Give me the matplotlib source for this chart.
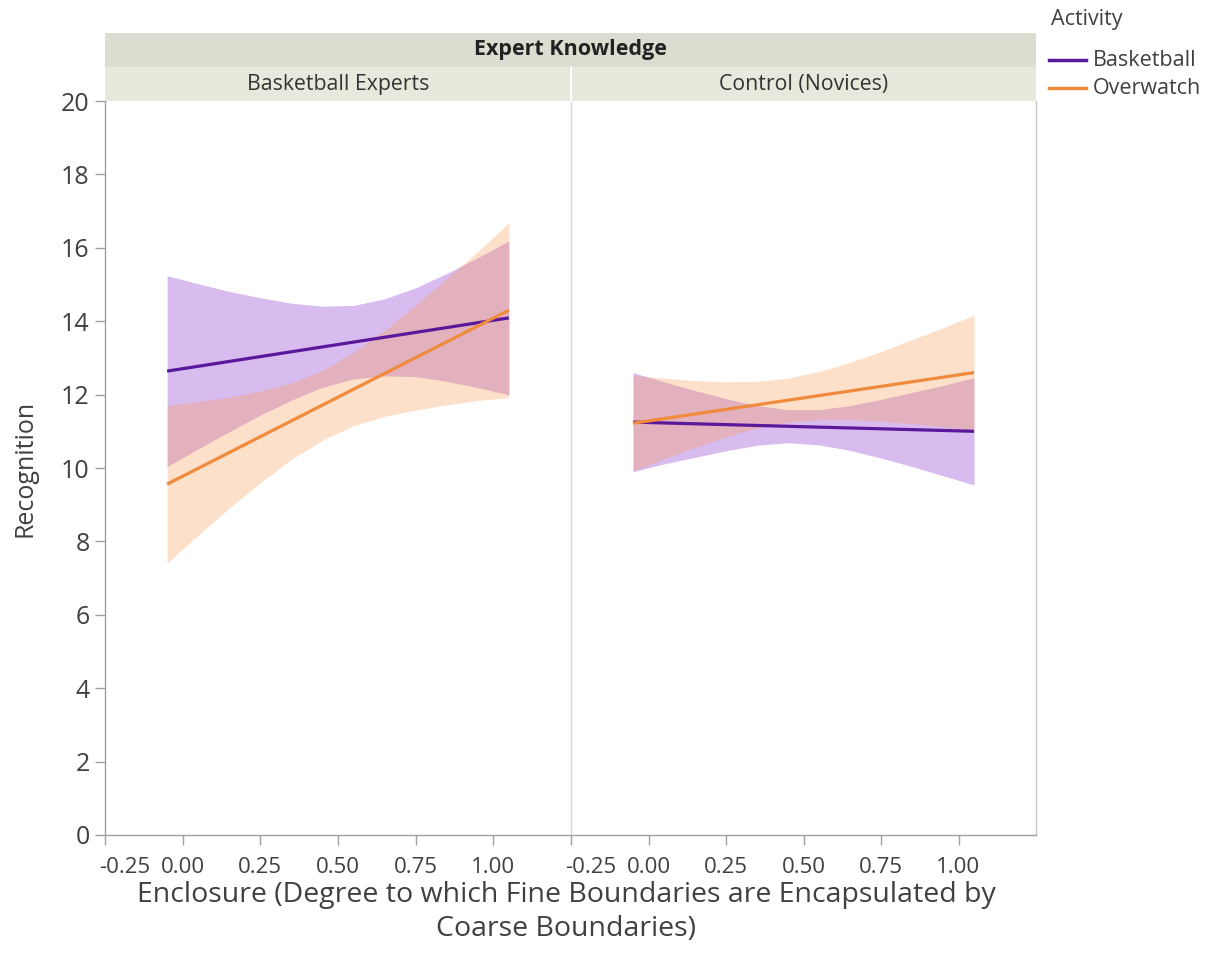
import matplotlib
matplotlib.use("Agg")
import matplotlib.pyplot as plt
from matplotlib.lines import Line2D
from matplotlib.transforms import ScaledTranslation

plt.rcParams['font.family'] = ['Open Sans', 'DejaVu Sans']

# x positions where the confidence band edges were read
x_grid = [-0.05, 0.05, 0.15, 0.25, 0.35, 0.45, 0.55, 0.65, 0.75, 0.85, 0.95, 1.05]
x_ends = [-0.05, 1.05]

panels = ["Basketball Experts", "Control (Novices)"]
activities = ["Basketball", "Overwatch"]

# Basketball Experts
exp_bb_fit = [12.64, 14.09]
exp_bb_hi = [15.24, 15.02, 14.81, 14.64, 14.49, 14.41, 14.43, 14.61, 14.91, 15.30, 15.73, 16.19]
exp_bb_lo = [10.04, 10.52, 10.99, 11.44, 11.85, 12.20, 12.43, 12.51, 12.49, 12.36, 12.19, 11.99]
exp_ow_fit = [9.56, 14.30]
exp_ow_hi = [11.71, 11.81, 11.93, 12.10, 12.32, 12.66, 13.15, 13.75, 14.44, 15.16, 15.90, 16.68]
exp_ow_lo = [7.41, 8.17, 8.91, 9.60, 10.24, 10.76, 11.15, 11.41, 11.58, 11.72, 11.84, 11.92]

# Control (Novices)
nov_bb_fit = [11.25, 11.00]
nov_bb_hi = [12.60, 12.35, 12.11, 11.89, 11.70, 11.59, 11.59, 11.70, 11.87, 12.06, 12.25, 12.46]
nov_bb_lo = [9.90, 10.11, 10.29, 10.47, 10.62, 10.69, 10.63, 10.48, 10.27, 10.04, 9.79, 9.54]
nov_ow_fit = [11.22, 12.60]
nov_ow_hi = [12.52, 12.45, 12.38, 12.35, 12.36, 12.45, 12.63, 12.88, 13.17, 13.50, 13.82, 14.17]
nov_ow_lo = [9.92, 10.25, 10.56, 10.85, 11.09, 11.25, 11.31, 11.32, 11.27, 11.21, 11.12, 11.03]

x_ticks = [-0.25, 0.0, 0.25, 0.5, 0.75, 1.0]
x_ticklabels = ["-0.25", "0.00", "0.25", "0.50", "0.75", "1.00"]
y_ticks = list(range(0, 21, 2))

line_col = {"Basketball": "#5a189a", "Overwatch": "#f08a3c"}
band_col = {"Basketball": ("#9e59d9", 0.40), "Overwatch": ("#fa994c", 0.30)}
txt = "#404040"
axis_grey = "#a0a0a0"

W, H = 1212, 963
fig = plt.figure(figsize=(W / 100, H / 100), dpi=100)

def frac(x0, y0, x1, y1):
    # pixel box -> figure fraction rect
    return [x0 / W, 1 - y1 / H, (x1 - x0) / W, (y1 - y0) / H]

ax_l = fig.add_axes(frac(105, 101, 571, 835))
ax_r = fig.add_axes(frac(571, 101, 1036, 835))

data = {
    panels[0]: [(activities[0], exp_bb_fit, exp_bb_lo, exp_bb_hi),
                (activities[1], exp_ow_fit, exp_ow_lo, exp_ow_hi)],
    panels[1]: [(activities[0], nov_bb_fit, nov_bb_lo, nov_bb_hi),
                (activities[1], nov_ow_fit, nov_ow_lo, nov_ow_hi)],
}

for ax, name in zip([ax_l, ax_r], panels):
    for act, fit, lo, hi in data[name]:
        c, a = band_col[act]
        ax.fill_between(x_grid, lo, hi, color=c, alpha=a, linewidth=0)
    for act, fit, lo, hi in data[name]:
        ax.plot(x_ends, fit, color=line_col[act], lw=2.3, solid_capstyle='butt')
    ax.set_xlim(-0.25, 1.25)
    ax.set_ylim(0, 20)
    ax.set_xticks(x_ticks)
    ax.set_xticklabels(x_ticklabels)
    ax.tick_params(axis='x', length=7, width=1, color=axis_grey, labelsize=16,
                   labelcolor=txt, pad=9)
    for s in ax.spines.values():
        s.set_color(axis_grey)
        s.set_linewidth(1)
    ax.spines['top'].set_visible(False)
    # shift the first tick label so it stays inside the panel
    first = ax.get_xticklabels()[0]
    first.set_horizontalalignment('left')
    first.set_transform(first.get_transform() + ScaledTranslation(-6 / 100, 0, fig.dpi_scale_trans))

ax_l.spines['right'].set_visible(False)
ax_r.spines['left'].set_color('#d6d6d6')
ax_r.spines['right'].set_color('#c8c8c8')
ax_l.set_yticks(y_ticks)
ax_l.tick_params(axis='y', length=7, width=1, color=axis_grey, labelsize=18,
                 labelcolor=txt, pad=4)
ax_r.set_yticks(y_ticks)
ax_r.tick_params(axis='y', left=False, labelleft=False)

# facet strips
top = fig.add_axes(frac(105, 33, 1036, 67), facecolor='#dcdcd0')
top.text(0.5, 0.5, "Expert Knowledge", ha='center', va='center', fontsize=15.5,
         fontweight='bold', color='#222222', transform=top.transAxes)
for x0, x1, name in [(105, 571, panels[0]), (571, 1036, panels[1])]:
    s = fig.add_axes(frac(x0, 67, x1, 101), facecolor='#e8e8dd')
    s.text(0.5, 0.5, name, ha='center', va='center', fontsize=15.3,
           color='#333333', transform=s.transAxes)
for s in fig.axes[2:]:
    s.set_xticks([])
    s.set_yticks([])
    for sp in s.spines.values():
        sp.set_visible(False)
fig.add_artist(Line2D([571 / W, 571 / W], [1 - 101 / H, 1 - 67 / H], color='white', lw=1.5))

fig.text(25 / W, 1 - 468 / H, "Recognition", rotation=90, ha='center', va='center',
         fontsize=18, color=txt)
fig.text(566 / W, 1 - 912 / H,
         "Enclosure (Degree to which Fine Boundaries are Encapsulated by\nCoarse Boundaries)",
         ha='center', va='center', fontsize=20.5, color=txt, linespacing=1.3)

# legend, placed by hand
fig.text(1051 / W, 1 - 20 / H, "Activity", ha='left', va='center', fontsize=15.5, color=txt)
for act, yp in zip(activities, [60, 88]):
    fig.add_artist(Line2D([1049 / W, 1086 / W], [1 - yp / H] * 2, color=line_col[act], lw=2.5))
    fig.text(1093 / W, 1 - yp / H, act, ha='left', va='center', fontsize=15.5, color=txt)

fig.savefig("out.png", dpi=100, facecolor='white')
